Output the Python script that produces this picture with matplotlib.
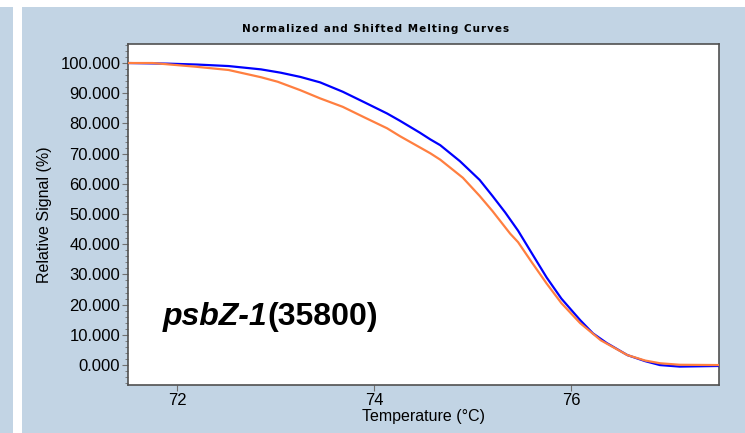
import matplotlib.pyplot as plt
from matplotlib.patches import Rectangle
from matplotlib.ticker import MultipleLocator, FormatStrFormatter

plt.rcParams['font.family'] = ['Liberation Sans', 'DejaVu Sans']

# melting curves
temp_blue = [71.5, 71.9, 72.2, 72.52, 72.85, 73.05, 73.25, 73.45, 73.68, 73.9,
             74.13, 74.26, 74.46, 74.57, 74.67, 74.87, 75.07, 75.2, 75.33, 75.46,
             75.6, 75.75, 75.9, 76.09, 76.22, 76.36, 76.57, 76.75, 76.9, 77.1,
             77.3, 77.5]
sig_blue = [100.0, 99.8, 99.5, 99.0, 97.9, 96.8, 95.4, 93.6, 90.5, 87.0,
            83.3, 80.9, 77.0, 74.7, 72.8, 67.5, 61.3, 56.0, 50.5, 44.5,
            37.0, 29.0, 22.0, 14.9, 10.5, 7.3, 3.3, 1.3, 0.0, -0.5,
            -0.4, -0.3]
temp_orange = [71.5, 71.75, 72.18, 72.52, 72.85, 73.02, 73.25, 73.45, 73.68, 73.9,
               74.13, 74.26, 74.57, 74.67, 74.9, 75.07, 75.2, 75.38, 75.46, 75.6,
               75.75, 75.9, 76.09, 76.3, 76.57, 76.75, 76.9, 77.1, 77.5]
sig_orange = [100.0, 100.0, 98.8, 97.7, 95.3, 93.8, 91.0, 88.3, 85.5, 82.0,
              78.4, 75.8, 70.1, 68.0, 62.0, 56.0, 51.0, 43.5, 40.7, 34.0,
              27.0, 20.5, 13.9, 8.2, 3.3, 1.5, 0.6, 0.1, 0.0]
y_ticks = [0, 10, 20, 30, 40, 50, 60, 70, 80, 90, 100]
x_ticks = [72, 74, 76]
title = 'Normalized and Shifted Melting Curves'

W, H = 745, 433
fig = plt.figure(figsize=(W / 100, H / 100), dpi=100)
panel = '#c2d4e4'
fig.patches.append(Rectangle((0, 0), 13 / W, 1 - 7 / H, transform=fig.transFigure,
                             facecolor=panel, edgecolor='none', zorder=0))
fig.patches.append(Rectangle((22 / W, 0), 1 - 22 / W, 1 - 7 / H, transform=fig.transFigure,
                             facecolor=panel, edgecolor='none', zorder=0))

ax = fig.add_axes([128 / W, 1 - 385 / H, (719 - 128) / W, (385 - 44) / H], zorder=2)
ax.set_facecolor('white')

ax.plot(temp_blue, sig_blue, color='#0000ff', lw=1.6, zorder=3)
ax.plot(temp_orange, sig_orange, color='#ff7f40', lw=1.6, zorder=4)

ax.set_xlim(71.5, 77.5)
ax.set_ylim(-6.6, 106.3)
ax.set_xticks(x_ticks)
ax.set_yticks(y_ticks)
ax.yaxis.set_minor_locator(MultipleLocator(2))
ax.yaxis.set_major_formatter(FormatStrFormatter('%.3f'))
ax.tick_params(axis='both', which='major', length=4, width=0.8, color='#707070',
               labelsize=12, pad=1.5)
ax.tick_params(axis='y', which='minor', length=2.5, width=0.6, color='#707070')
for s in ax.spines.values():
    s.set_color('#505050')
    s.set_linewidth(1.2)

ax.set_xlabel('Temperature (°C)', fontsize=11.5, labelpad=1)
ax.set_ylabel('Relative Signal (%)', fontsize=11.5, labelpad=6)

# letter-spaced title as in the instrument software
fig.text(376 / W, 1 - 29 / H, '\u200a'.join(title), fontsize=7.5,
         fontweight='bold', ha='center', va='center', family='DejaVu Sans', zorder=3)

t1 = ax.text(0.059, 0.176, 'psbZ-1', transform=ax.transAxes, fontsize=23,
             fontweight='bold', fontstyle='italic', ha='left', va='baseline')
ax.annotate('(35800)', xy=(1, 0), xycoords=t1, fontsize=23, fontweight='bold',
            ha='left', va='bottom')

fig.savefig('out.png', dpi=100)
